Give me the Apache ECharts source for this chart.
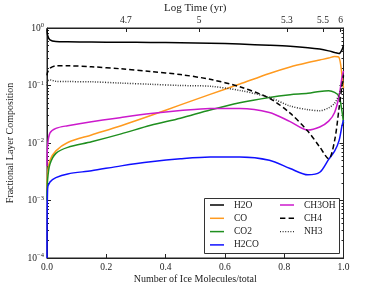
<!DOCTYPE html>
<html><head><meta charset="utf-8">
<script src="https://cdn.jsdelivr.net/npm/echarts@6/dist/echarts.min.js"></script>
<style>html,body{margin:0;padding:0;background:#fff}#c{width:382px;height:287px}</style>
</head><body><div id="c"></div>
<script>
var xs      = [0, 0.002, 0.01, 0.03, 0.07, 0.15, 0.25, 0.35, 0.45, 0.55, 0.65, 0.75, 0.82, 0.88, 0.92, 0.95, 0.97, 0.985, 0.995, 1.0];
var h2o     = [0.95, 0.75, 0.62, 0.58, 0.575, 0.57, 0.565, 0.56, 0.555, 0.545, 0.525, 0.5, 0.48, 0.455, 0.43, 0.40, 0.375, 0.36, 0.42, 0.5];
var co      = [0.0015, 0.003, 0.005, 0.0073, 0.0102, 0.0138, 0.02, 0.03, 0.046, 0.07, 0.106, 0.162, 0.21, 0.251, 0.278, 0.30, 0.32, 0.307, 0.15, 0.09];
var co2     = [0.001, 0.0023, 0.0043, 0.0066, 0.0084, 0.0105, 0.0144, 0.0203, 0.027, 0.0375, 0.05, 0.062, 0.069, 0.073, 0.079, 0.081, 0.076, 0.065, 0.035, 0.022];
var h2co    = [0.0001, 0.0016, 0.0021, 0.0025, 0.0029, 0.0033, 0.004, 0.0047, 0.0053, 0.0057, 0.0057, 0.005, 0.0036, 0.0028, 0.0031, 0.0052, 0.0072, 0.011, 0.02, 0.025];
var ch3oh   = [0.004, 0.009, 0.015, 0.018, 0.02, 0.0235, 0.0278, 0.0325, 0.0367, 0.040, 0.040, 0.034, 0.0235, 0.0168, 0.019, 0.024, 0.034, 0.065, 0.14, 0.18];
var ch4     = [0.15, 0.17, 0.2, 0.22, 0.22, 0.212, 0.195, 0.175, 0.155, 0.128, 0.095, 0.06, 0.033, 0.016, 0.0085, 0.0053, 0.011, 0.04, 0.1, 0.15];
var nh3     = [0.1, 0.12, 0.125, 0.118, 0.117, 0.116, 0.11, 0.105, 0.1, 0.097, 0.082, 0.062, 0.044, 0.038, 0.0365, 0.041, 0.049, 0.07, 0.1, 0.125];
var seriesNames = ['H2O', 'CO', 'CO2', 'H2CO', 'CH3OH', 'CH4', 'NH3'];
var topTickPos    = [0.266, 0.513, 0.809, 0.931, 0.99];
var topTickLabels = ['4.7', '5', '5.3', '5.5', '6'];
var yMinor = [];
for (var e = -4; e < 0; e++) for (var m = 2; m <= 9; m++) yMinor.push(m * Math.pow(10, e));

var FONT = 'Liberation Serif';
var ICON_SOLID  = 'path://M0,0H14V1.5H0Z';
var ICON_DASHED = 'path://M0,0H5V1.5H0Z M8,0H13V1.5H8Z';
var ICON_DOTTED = 'path://M0,0H1V1.2H0Z M2.6,0H3.6V1.2H2.6Z M5.2,0H6.2V1.2H5.2Z M7.8,0H8.8V1.2H7.8Z M10.4,0H11.4V1.2H10.4Z M13,0H14V1.2H13Z';
var legendIcons = { H2O: ICON_SOLID, CO: ICON_SOLID, CO2: ICON_SOLID, H2CO: ICON_SOLID, CH3OH: ICON_SOLID, CH4: ICON_DASHED, NH3: ICON_DOTTED };
function legendData(names) { return names.map(function (n) { return { name: n, icon: legendIcons[n] }; }); }
function pairs(arr) { return xs.map(function (x, i) { return [x, arr[i]]; }); }
function mk(name, arr, color, type) {
  return { name: name, type: 'line', data: pairs(arr), showSymbol: false, symbol: 'none',
    smooth: 0.3, z: 2,
    lineStyle: { color: color, width: 1.5, type: type || 'solid' }, itemStyle: { color: color } };
}
var chart = echarts.init(document.getElementById('c'), null, { renderer: 'canvas' });
chart.setOption({
  animation: false,
  textStyle: { fontFamily: FONT },
  grid: { left: 47, right: 38.5, top: 28, bottom: 29, outerBoundsMode: 'none', containLabel: false,
    show: true, borderColor: '#222', borderWidth: 1, backgroundColor: 'transparent' },
  xAxis: [
    { type: 'value', min: 0, max: 1, interval: 0.2, position: 'bottom',
      name: 'Number of Ice Molecules/total', nameLocation: 'middle', nameGap: 16, nameMoveOverlap: false,
      nameTextStyle: { fontFamily: FONT, fontSize: 10, color: '#222' },
      axisLine: { show: true, lineStyle: { color: '#222' } },
      axisTick: { inside: true, length: 4, lineStyle: { color: '#222' } },
      axisLabel: { fontFamily: FONT, fontSize: 9.5, color: '#222', margin: 4, formatter: function (v) { return v.toFixed(1); } },
      splitLine: { show: false } },
    { type: 'value', min: 0, max: 1, position: 'top',
      name: 'Log Time (yr)', nameLocation: 'middle', nameGap: 14, nameMoveOverlap: false,
      nameTextStyle: { fontFamily: FONT, fontSize: 11, color: '#222' },
      axisLine: { show: true, lineStyle: { color: '#222' } },
      axisTick: { inside: true, length: 4, customValues: topTickPos, lineStyle: { color: '#222' } },
      axisLabel: { fontFamily: FONT, fontSize: 9.5, color: '#222', margin: 3, customValues: topTickPos,
        formatter: function (v) { var i = topTickPos.indexOf(v); return i >= 0 ? topTickLabels[i] : ''; } },
      splitLine: { show: false } }
  ],
  yAxis: [
    { type: 'log', min: 1e-4, max: 1, logBase: 10, position: 'left',
      name: 'Fractional Layer Composition', nameLocation: 'middle', nameGap: 32, nameMoveOverlap: false,
      nameTextStyle: { fontFamily: FONT, fontSize: 10, color: '#222' },
      axisLine: { show: true, lineStyle: { color: '#222' } },
      axisTick: { inside: true, length: 4, lineStyle: { color: '#222' } },
      axisLabel: { margin: 3, formatter: function (v) { var p = Math.round(Math.log10(v)); return '{b|10}{s|' + (p < 0 ? '\u2212' + (-p) : p) + '}'; },
        rich: { b: { fontFamily: FONT, fontSize: 9.5, color: '#222' }, s: { fontFamily: FONT, fontSize: 6.5, color: '#222', verticalAlign: 'top', padding: [0, 0, 5, 0] } } },
      splitLine: { show: false } },
    { type: 'log', min: 1e-4, max: 1, logBase: 10, position: 'left',
      axisLine: { show: false }, axisLabel: { show: false },
      axisTick: { inside: true, length: 2, customValues: yMinor, lineStyle: { color: '#222' } }, splitLine: { show: false } },
    { type: 'log', min: 1e-4, max: 1, logBase: 10, position: 'right',
      axisLine: { show: true, lineStyle: { color: '#222' } }, axisLabel: { show: false },
      axisTick: { inside: true, length: 4, lineStyle: { color: '#222' } }, splitLine: { show: false } },
    { type: 'log', min: 1e-4, max: 1, logBase: 10, position: 'right',
      axisLine: { show: false }, axisLabel: { show: false },
      axisTick: { inside: true, length: 2, customValues: yMinor, lineStyle: { color: '#222' } }, splitLine: { show: false } }
  ],
  legend: [
    { data: legendData(seriesNames.slice(0, 4)), orient: 'vertical', left: 210, top: 200, padding: 0, itemWidth: 14, itemHeight: 10, itemGap: 3.3, z: 20,
      textStyle: { fontFamily: FONT, fontSize: 9.5, color: '#222', padding: [0, 0, 0, 5] } },
    { data: legendData(seriesNames.slice(4)), orient: 'vertical', left: 280, top: 200, padding: 0, itemWidth: 14, itemHeight: 10, itemGap: 3.3, z: 20,
      textStyle: { fontFamily: FONT, fontSize: 9.5, color: '#222', padding: [0, 0, 0, 5] } }
  ],
  graphic: [
    { type: 'rect', left: 204, top: 198, shape: { width: 135, height: 55 }, style: { fill: '#ffffff', stroke: '#333', lineWidth: 1 }, z: 10 }
  ],
  series: [
    mk('H2O', h2o, '#000000'),
    mk('CO', co, '#ff9a1f'),
    mk('CO2', co2, '#1f8f1f'),
    mk('H2CO', h2co, '#1010ff'),
    mk('CH3OH', ch3oh, '#cc1acc'),
    mk('CH4', ch4, '#000000', [5, 3]),
    mk('NH3', nh3, '#333333', [1, 1.5])
  ]
});
</script></body></html>
